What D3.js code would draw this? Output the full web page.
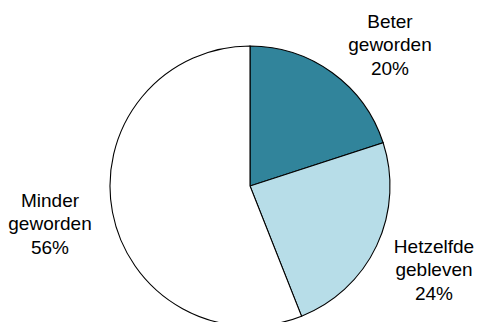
<!DOCTYPE html>
<html>
<head>
<meta charset="utf-8">
<script src="https://cdn.jsdelivr.net/npm/d3@7"></script>
<style>
  html, body { margin: 0; padding: 0; background: #fff; }
  svg { display: block; }
  text { font-family: "Liberation Sans", Arial, Helvetica, sans-serif; }
</style>
</head>
<body>
<svg id="chart" width="480" height="322"></svg>
<script>
// Data
const categories = ["Beter geworden", "Hetzelfde gebleven", "Minder geworden"];
const labelLines = [["Beter", "geworden"], ["Hetzelfde", "gebleven"], ["Minder", "geworden"]];
const values = [20, 24, 56];
const colors = ["#31849b", "#b7dde8", "#ffffff"];

const width = 480, height = 322;
const cx = 250, cy = 186, radius = 140;

const svg = d3.select("#chart");
const g = svg.append("g").attr("transform", `translate(${cx},${cy})`);

const pie = d3.pie().sort(null).value(d => d.value);
const arcs = pie(values.map((v, i) => ({ name: categories[i], value: v, i })));
const arc = d3.arc().innerRadius(0).outerRadius(radius);

g.selectAll("path.slice")
  .data(arcs)
  .join("path")
  .attr("class", "slice")
  .attr("d", arc)
  .attr("fill", d => colors[d.data.i])
  .attr("stroke", "#000")
  .attr("stroke-width", 1.1);

// Label anchors (layout, relative to pie centre): first-line baseline
const labelAnchor = [
  { x: 390 - cx, y: 28 - cy },
  { x: 434 - cx, y: 253 - cy },
  { x: 50 - cx, y: 207 - cy }
];
const lineH = 23.3;

const labels = g.selectAll("text.lbl")
  .data(arcs)
  .join("text")
  .attr("class", "lbl")
  .attr("text-anchor", "middle")
  .attr("font-size", 19)
  .attr("fill", "#000")
  .attr("x", d => labelAnchor[d.data.i].x)
  .attr("y", d => labelAnchor[d.data.i].y);

labels.each(function(d) {
  const t = d3.select(this);
  const lines = labelLines[d.data.i].concat([d3.format(".0f")(d.data.value) + "%"]);
  lines.forEach((ln, k) => {
    t.append("tspan")
      .attr("x", labelAnchor[d.data.i].x)
      .attr("y", labelAnchor[d.data.i].y + k * lineH)
      .text(ln);
  });
});
</script>
</body>
</html>
